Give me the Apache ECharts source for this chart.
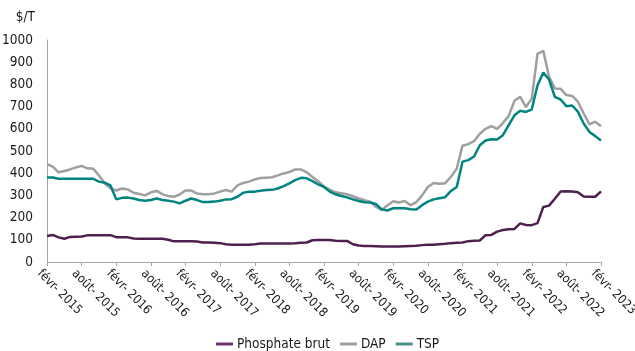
<!DOCTYPE html>
<html>
<head>
<meta charset="utf-8">
<script src="https://cdn.jsdelivr.net/npm/echarts@6/dist/echarts.min.js"></script>
<style>
  html, body { margin: 0; padding: 0; background: #fff; }
  #chart { width: 635px; height: 351px; }
</style>
</head>
<body>
<div id="chart"></div>
<script>
// mois (févr. 2015 -> févr. 2023), un point par mois
const moisNoms = ["janv", "févr", "mars", "avr", "mai", "juin", "juil", "août", "sept", "oct", "nov", "déc"];
const debutAnnee = 2015;
const debutMois = 1; // févr
const nbMois = 97;

const phosphateBrut = [
  117, 122, 111, 105, 113, 114, 115, 120, 121, 121, 121, 121,
  112, 111, 111, 106, 105, 105, 105, 105, 105, 100, 93, 93,
  93, 93, 92, 88, 88, 87, 85, 80, 78, 78, 78, 78,
  80, 83, 83, 83, 83, 83, 83, 84, 87, 88, 98, 99,
  99, 99, 96, 95, 95, 80, 74, 72, 72, 71, 70, 70,
  70, 70, 71, 72, 73, 76, 78, 78, 80, 82, 85, 87,
  88, 94, 96, 97, 121, 122, 137, 144, 147, 149, 174, 167,
  166, 175, 248, 254, 285, 318, 319, 318, 314, 295, 294, 294,
  318
];
const dap = [
  441, 430, 404, 410, 417, 426, 433, 422, 420, 390, 355, 332,
  322, 331, 327, 312, 306, 300, 314, 320, 306, 297, 294, 304,
  322, 322, 309, 305, 305, 309, 317, 324, 317, 345, 356, 362,
  372, 378, 380, 382, 390, 399, 405, 417, 417, 404, 383, 364,
  339, 326, 314, 310, 305, 296, 286, 278, 272, 249, 234, 256,
  274, 268, 275, 256, 270, 300, 338, 356, 352, 355, 384, 420,
  524, 531, 544, 578, 600, 612, 600, 626, 657, 726, 744, 698,
  736, 938, 951, 834, 782, 780, 752, 748, 722, 669, 620, 632,
  612
];
const tsp = [
  381, 381, 375, 375, 375, 375, 375, 375, 375, 362, 357, 345,
  282, 289, 290, 286, 279, 276, 279, 286, 279, 276, 272, 264,
  276, 286, 279, 270, 270, 272, 276, 282, 283, 294, 312, 317,
  317, 321, 324, 325, 331, 342, 354, 369, 379, 377, 364, 350,
  338, 317, 305, 297, 291, 282, 275, 269, 268, 261, 237, 232,
  242, 242, 242, 238, 237, 256, 272, 282, 287, 292, 320, 338,
  452, 459, 475, 526, 547, 553, 552, 571, 616, 661, 681, 676,
  688, 796, 853, 822, 744, 732, 702, 705, 677, 624, 586, 567,
  547
];

const categories = [];
for (let i = 0; i < nbMois; i++) {
  const m = debutMois + i;
  categories.push(moisNoms[m % 12] + "- " + (debutAnnee + Math.floor(m / 12)));
}

const police = "'DejaVu Sans Condensed', 'DejaVu Sans', sans-serif";

const chart = echarts.init(document.getElementById("chart"));
chart.setOption({
  animation: false,
  textStyle: { fontFamily: police },
  grid: { left: 47, right: 34, top: 40, bottom: 89, containLabel: false, outerBoundsMode: "none" },
  legend: {
    data: ["Phosphate brut", "DAP", "TSP"],
    top: 332,
    left: 211,
    icon: "rect",
    itemWidth: 17,
    itemHeight: 3,
    itemGap: 10,
    textStyle: { fontSize: 13.5, color: "#1a1a1a", fontFamily: police, padding: [0, 0, 0, -1] }
  },
  xAxis: {
    type: "category",
    data: categories,
    boundaryGap: false,
    axisLine: { lineStyle: { color: "#a6a6a6", width: 1 } },
    axisTick: { show: true, interval: 5, length: 4, lineStyle: { color: "#a6a6a6" } },
    axisLabel: {
      interval: 5,
      rotate: -45,
      margin: 2,
      fontSize: 12.5,
      lineHeight: 22,
      verticalAlign: "top",
      color: "#1a1a1a",
      fontFamily: police
    }
  },
  yAxis: {
    type: "value",
    min: 0,
    max: 1000,
    interval: 100,
    name: "$/T",
    nameLocation: "end",
    nameGap: 16,
    nameTextStyle: { fontSize: 13.5, color: "#1a1a1a", align: "right", padding: [0, 12, 0, 0], fontFamily: police },
    splitLine: { show: false },
    axisLine: { show: true, lineStyle: { color: "#a6a6a6", width: 1 } },
    axisTick: { show: false },
    axisLabel: {
      fontSize: 13.5,
      color: "#1a1a1a",
      margin: 14,
      fontFamily: police,
      formatter: function (v) { return String(v); }
    }
  },
  series: [
    {
      name: "Phosphate brut",
      type: "line",
      data: phosphateBrut,
      showSymbol: false,
      lineStyle: { width: 2.5, color: "#4e2050" },
      itemStyle: { color: "#6b356b" }
    },
    {
      name: "DAP",
      type: "line",
      data: dap,
      showSymbol: false,
      lineStyle: { width: 2.5, color: "#9f9f9f" },
      itemStyle: { color: "#a0a0a0" }
    },
    {
      name: "TSP",
      type: "line",
      data: tsp,
      showSymbol: false,
      lineStyle: { width: 2.5, color: "#00847f" },
      itemStyle: { color: "#4f8f8c" }
    }
  ]
});
</script>
</body>
</html>
